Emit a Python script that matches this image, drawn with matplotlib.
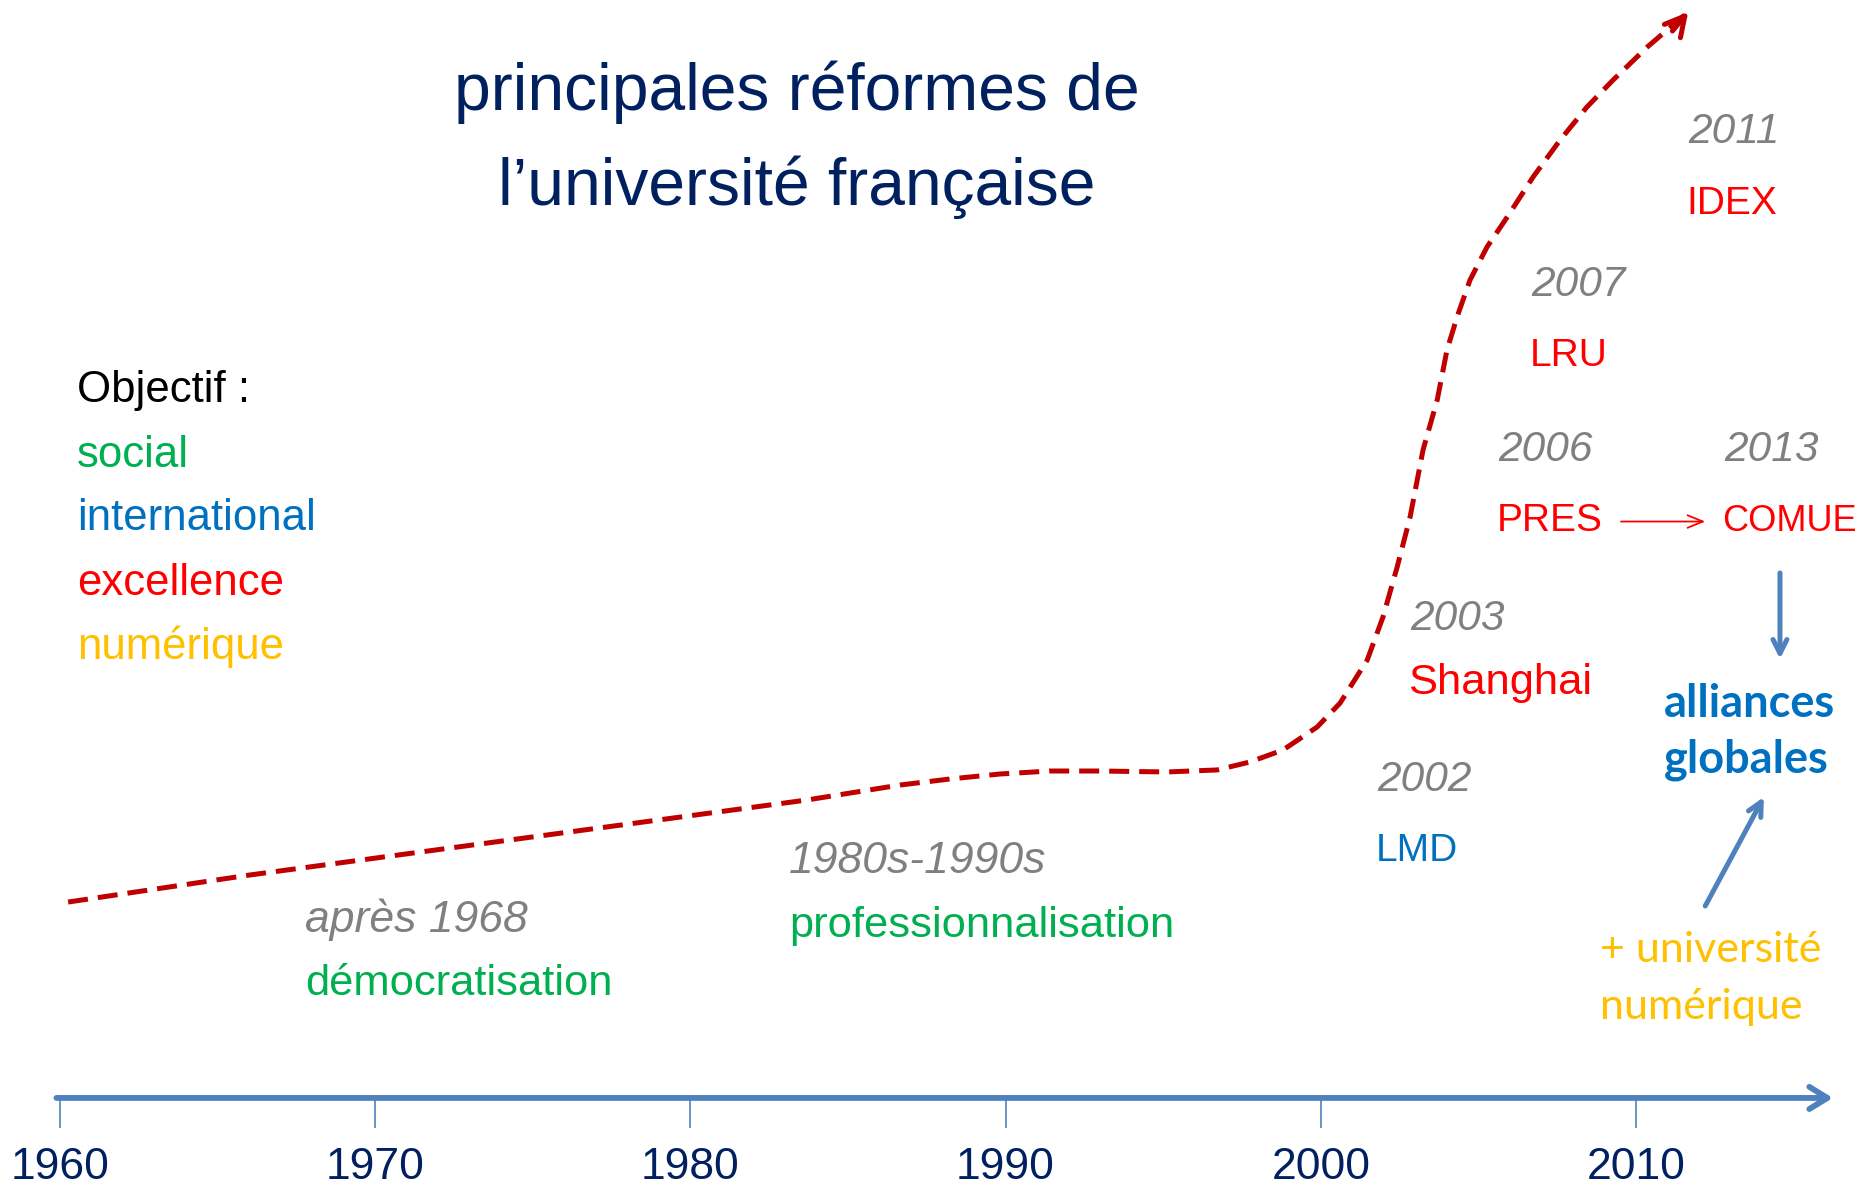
import numpy as np
import matplotlib
matplotlib.use("Agg")
import matplotlib.pyplot as plt
from matplotlib import font_manager

# polices : Arial Narrow -> Liberation Sans Narrow si dispo, sinon Liberation Sans
dispo = {f.name for f in font_manager.fontManager.ttflist}
NARROW = "Liberation Sans Narrow" if "Liberation Sans Narrow" in dispo else "Liberation Sans"
CALIBRI = "Lato" if "Lato" in dispo else "Open Sans"

# courbe pointillée (année, niveau 0-100)
curve_years = [1960.27, 1966.04, 1983.70, 1986.65, 1988.24, 1989.83, 1991.41, 1993.00,
               1995.12, 1996.71, 1997.75, 1998.80, 1999.88, 2000.61, 2001.47, 2001.97,
               2002.42, 2002.83, 2003.24, 2003.69, 2004.00, 2004.32, 2004.73, 2005.27,
               2005.91, 2006.73, 2007.59, 2008.44, 2009.27, 2010.35, 2011.65]
curve_level = [24.07, 26.35, 32.66, 33.92, 34.43, 34.85, 35.10, 35.10,
               35.02, 35.19, 35.86, 36.87, 38.80, 40.82, 44.44, 48.06,
               52.27, 56.48, 62.12, 66.33, 70.54, 73.32, 76.43, 79.21,
               81.73, 85.10, 88.22, 91.00, 93.27, 96.04, 98.99]

# axe du temps
decades = [1960, 1970, 1980, 1990, 2000, 2010]
decade_labels = ["1960", "1970", "1980", "1990", "2000", "2010"]

# réformes (année affichée, nom, couleur)
event_x = [2001.78, 2002.83, 2005.62, 2006.67, 2011.65, 2012.79]
event_years = ["2002", "2003", "2006", "2007", "2011", "2013"]
event_names = ["LMD", "Shanghai", "PRES", "LRU", "IDEX", "COMUE"]
event_colors = ["#0070C0", "#FF0000", "#FF0000", "#FF0000", "#FF0000", "#FF0000"]
event_year_y = [34.68, 48.23, 62.46, 76.35, 89.23, 62.46]
event_name_y = [28.70, 42.85, 56.48, 70.37, 83.16, 56.48]
event_name_size = [28, 31.3, 28, 28, 28, 26]

# périodes anciennes
period_x = [1967.78, 1983.14]
period_labels = ["après 1968", "1980s-1990s"]
period_names = ["démocratisation", "professionnalisation"]
period_y = [22.9, 27.86]
period_name_y = [17.5, 22.39]

# légende des objectifs
objectifs = ["Objectif :", "social", "international", "excellence", "numérique"]
objectif_colors = ["#000000", "#00B050", "#0070C0", "#FF0000", "#FFC000"]
objectif_y = [67.5, 62.04, 56.73, 51.26, 45.88]

GRAY = "#808080"
NAVY = "#002060"
AXBLUE = "#4F81BD"
DY = -0.35  # petit décalage vertical des textes

fig = plt.figure(figsize=(18.61, 11.88), dpi=100)
ax = fig.add_axes([0, 0, 1, 1])
ax.set_xlim(1958.11, 2017.13)
ax.set_ylim(0, 100)
ax.set_axis_off()

# titre
ax.text(1983.39, 92.2, "principales réformes de", ha="center", va="center",
        fontsize=47.5, color=NAVY, family=NARROW)
ax.text(1983.39, 84.2, "l\u2019université française", ha="center", va="center",
        fontsize=47.5, color=NAVY, family=NARROW)

# courbe + pointe de flèche
ax.plot(curve_years, curve_level, color="#C00000", lw=3.6, ls=(0, (4, 2)),
        solid_capstyle="butt")
ax.annotate("", xy=(curve_years[-1], curve_level[-1]),
            xytext=(curve_years[-1] - 0.5, curve_level[-1] - 1.6),
            arrowprops=dict(arrowstyle="->,head_length=1.4,head_width=0.75",
                            color="#C00000", lw=3.6, shrinkA=0, shrinkB=0))

# axe horizontal
ax.annotate("", xy=(2016.24, 7.58), xytext=(1959.9, 7.58),
            arrowprops=dict(arrowstyle="->,head_length=1.3,head_width=0.8",
                            color=AXBLUE, lw=4.2, shrinkA=0, shrinkB=0))
ax.vlines(decades, 5.05, 7.58, color=AXBLUE, lw=1.2)
for d, lab in zip(decades, decade_labels):
    ax.text(d, 1.7, lab, ha="center", va="center", fontsize=32, color=NAVY,
            family=NARROW)

# objectifs
for lab, c, y in zip(objectifs, objectif_colors, objectif_y):
    ax.text(1960.55, y + DY, lab, ha="left", va="center", fontsize=31.5, color=c,
            family=NARROW)

# périodes
for x, lab, name, y1, y2 in zip(period_x, period_labels, period_names, period_y, period_name_y):
    ax.text(x, y1 + DY, lab, ha="left", va="center", fontsize=32, color=GRAY,
            style="italic", family=NARROW)
    ax.text(x, y2 + DY, name, ha="left", va="center", fontsize=31.3, color="#00B050",
            family=NARROW)

# réformes
for x, yr, name, c, y1, y2, s in zip(event_x, event_years, event_names, event_colors,
                                      event_year_y, event_name_y, event_name_size):
    ax.text(x, y1 + DY, yr, ha="left", va="center", fontsize=30.5, color=GRAY,
            style="italic", family=NARROW)
    ax.text(x - 0.05, y2 + DY, name, ha="left", va="center", fontsize=s, color=c,
            family=NARROW)

# PRES -> COMUE
ax.annotate("", xy=(2012.19, 56.1), xytext=(2009.52, 56.1),
            arrowprops=dict(arrowstyle="->,head_length=1.1,head_width=0.45",
                            color="#FF0000", lw=1.3, shrinkA=0, shrinkB=0))

# alliances globales
ax.text(2010.88, 41.08 + DY, "alliances", ha="left", va="center", fontsize=32.5,
        color="#0070C0", weight="bold", family=CALIBRI)
ax.text(2010.88, 36.36 + DY, "globales", ha="left", va="center", fontsize=32.5,
        color="#0070C0", weight="bold", family=CALIBRI)
ax.annotate("", xy=(2014.56, 44.53), xytext=(2014.56, 51.77),
            arrowprops=dict(arrowstyle="->,head_length=1.0,head_width=0.5",
                            color=AXBLUE, lw=3.6, shrinkA=0, shrinkB=0))
ax.annotate("", xy=(2014.05, 32.91), xytext=(2012.19, 23.74),
            arrowprops=dict(arrowstyle="->,head_length=1.0,head_width=0.5",
                            color=AXBLUE, lw=3.6, shrinkA=0, shrinkB=0))
ax.text(2008.86, 20.37 + DY, "+ université", ha="left", va="center", fontsize=31,
        color="#FFC000", family=CALIBRI)
ax.text(2008.86, 15.57 + DY, "numérique", ha="left", va="center", fontsize=31,
        color="#FFC000", family=CALIBRI)

fig.savefig("out.png", dpi=100, facecolor="white")
